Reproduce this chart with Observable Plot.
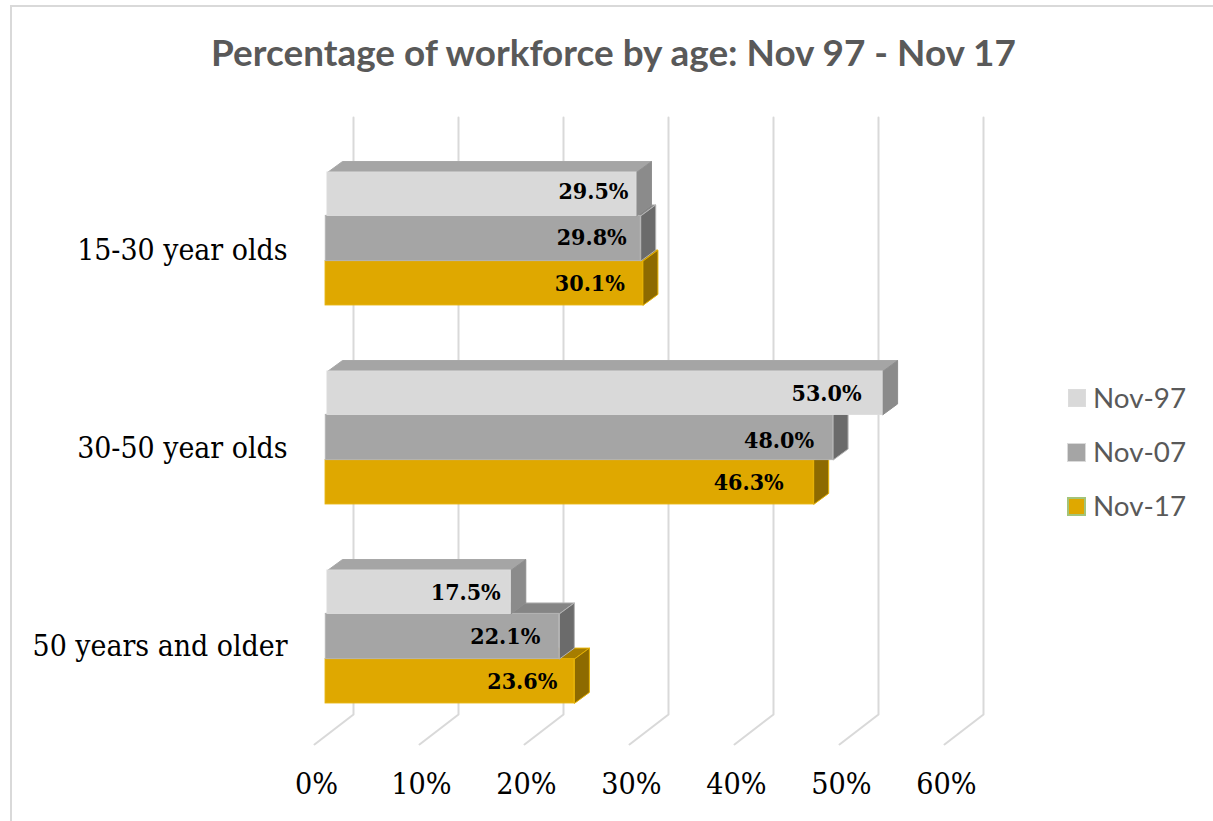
<!DOCTYPE html>
<html><head><meta charset="utf-8">
<script src="https://cdn.jsdelivr.net/npm/d3@7"></script>
<script src="https://cdn.jsdelivr.net/npm/@observablehq/plot@0.6"></script>
<style>
html,body{margin:0;padding:0;background:#fff;overflow:hidden}
#page{position:relative;width:1213px;height:821px;overflow:hidden}
#frame{position:absolute;left:10px;top:5px;width:1210px;height:830px;border:2px solid #d9d9d9;box-sizing:border-box}
#title{position:absolute;left:0;top:30px;width:1227px;text-align:center;font:700 36.9px Lato,sans-serif;color:#595959;white-space:nowrap}
#chart{position:absolute;left:0;top:0}
.lg{position:absolute;left:1093px;font:400 27.8px Lato,sans-serif;color:#595959;line-height:34px}
.sw{position:absolute;box-sizing:border-box}
</style></head><body>
<div id="page"><div id="frame"></div>
<div id="title">Percentage of workforce by age: Nov 97 - Nov 17</div><div id="chart"></div></div>
<script>
const ageGroups=["15-30 year olds","30-50 year olds","50 years and older"];
const seriesNames=["Nov-97","Nov-07","Nov-17"];
const nov97=[29.5,53.0,17.5];
const nov07=[29.8,48.0,22.1];
const nov17=[30.1,46.3,23.6];
const xTicks=[0,10,20,30,40,50,60];

const W=1213,H=821,mL=327,mT=172,mB=78,mR=W-957;
const pxX=(W-mL-mR)/60, rowPx=44.3;
const pitch=199/rowPx;
const ox=p=>p/pxX, oy=p=>p/rowPx;
const serif='"DejaVu Serif Condensed","DejaVu Serif",serif';

const styles=[
 {vals:nov97,front:"#d9d9d9",top:"#a5a5a5",side:"#8b8b8b",edge:"#dcdcdc",faceEdge:["#a8a8a8","#8e8e8e"],y0:0,y1:.98,k:.9975,s:0,lx:[-8,-21,-10],ly:[-3,0,0]},
 {vals:nov07,front:"#a5a5a5",top:"#858585",side:"#6b6b6b",edge:"#b4b4b4",faceEdge:["#b4b4b4","#b4b4b4"],y0:.98,y1:2.0,k:1.0065,s:ox(-1.7),lx:[-14,-19,-19],ly:[-1,3,0]},
 {vals:nov17,front:"#dfa800",top:"#a67d00",side:"#8d6a00",edge:"#e5b000",faceEdge:["#e5b000","#e5b000"],y0:2.0,y1:3.0,k:1.004,s:ox(-1.9),lx:[-18,-30,-17],ly:[0,0,0]}
];
const groupCentres=ageGroups.map((_,i)=>oy(77.5+i*198));
const dX=ox(15),dY=oy(-11);

function barMarks(st){
  const rows=st.vals.map((v,i)=>({
    v,g:i,x0:st.s,x1:st.s+v*st.k,
    top:i*pitch+st.y0,bot:i*pitch+st.y1,
    lx:ox(st.lx[i]),ly:oy(st.ly[i])
  }));
  const faces=rows.flatMap((r,i)=>[
    ...[[r.x0,r.top],[r.x0+dX,r.top+dY],[r.x1+dX,r.top+dY],[r.x1,r.top],[r.x0,r.top]]
      .map(([x,y])=>({x,y,z:"t"+i,fill:st.top,edge:st.faceEdge[0]})),
    ...[[r.x1,r.top],[r.x1+dX,r.top+dY],[r.x1+dX,r.bot+dY],[r.x1,r.bot],[r.x1,r.top]]
      .map(([x,y])=>({x,y,z:"s"+i,fill:st.side,edge:st.faceEdge[1]}))
  ]);
  return [
    Plot.line(faces,{x:"x",y:"y",z:"z",fill:"fill",stroke:"edge",strokeWidth:1,curve:"linear"}),
    Plot.rect(rows,{x1:"x0",x2:"x1",y1:"top",y2:"bot",fill:st.front,stroke:st.edge,strokeWidth:1}),
    Plot.text(rows,{x:d=>d.x1+d.lx,y:d=>(d.top+d.bot)/2+d.ly,text:d=>d.v.toFixed(1)+"%",textAnchor:"end",
      fill:"#000",fontWeight:"bold",fontSize:23,fontFamily:serif,lineAnchor:"middle"})
  ];
}
const wallTop=oy(117-mT), wallBot=oy(714-mT), floorBot=oy(744-mT);
const wall=xTicks.flatMap(t=>[[t+ox(26),wallTop],[t+ox(26),wallBot],[t-ox(13),floorBot]].map(([x,y])=>({x,y,t})));

const plot=Plot.plot({
  width:W,height:H,marginLeft:mL,marginTop:mT,marginBottom:mB,marginRight:mR,
  style:{background:"transparent",overflow:"visible"},
  color:{type:"identity"},
  x:{domain:[0,60]},
  y:{domain:[0,(H-mT-mB)/rowPx],reverse:true},
  marks:[
    Plot.line(wall,{x:"x",y:"y",z:"t",stroke:"#d9d9d9",strokeWidth:2,curve:"linear"}),
    ...barMarks(styles[2]),...barMarks(styles[1]),...barMarks(styles[0]),
    Plot.axisX({ticks:xTicks,tickFormat:d=>d+"%",tickSize:0,tickPadding:29,dx:-11,label:null,fontSize:30.2,fontFamily:serif,color:"#000",anchor:"bottom"}),
    Plot.axisY({ticks:groupCentres,tickFormat:(d,i)=>ageGroups[i],tickSize:0,tickPadding:40,label:null,fontSize:29.9,fontFamily:serif,color:"#000",anchor:"left"})
  ]
});
document.getElementById("chart").append(plot);
const page=document.getElementById("page");
const swatches=[["#d9d9d9","#dcdcdc",389,1068,18,1],["#a5a5a5","#dadada",443,1067,19,1],["#dfa800","#a3c47a",497,1067,19,2]];
seriesNames.forEach((n,i)=>{
  const [f,e,y,x,s,b]=swatches[i];
  const sw=document.createElement("div");sw.className="sw";
  sw.style.cssText=`left:${x}px;top:${y}px;width:${s}px;height:${s}px;background:${f};border:${b}px solid ${e}`;
  page.append(sw);
  const t=document.createElement("div");t.className="lg";t.textContent=n;t.style.top=(y-8)+"px";page.append(t);
});
</script></body></html>
